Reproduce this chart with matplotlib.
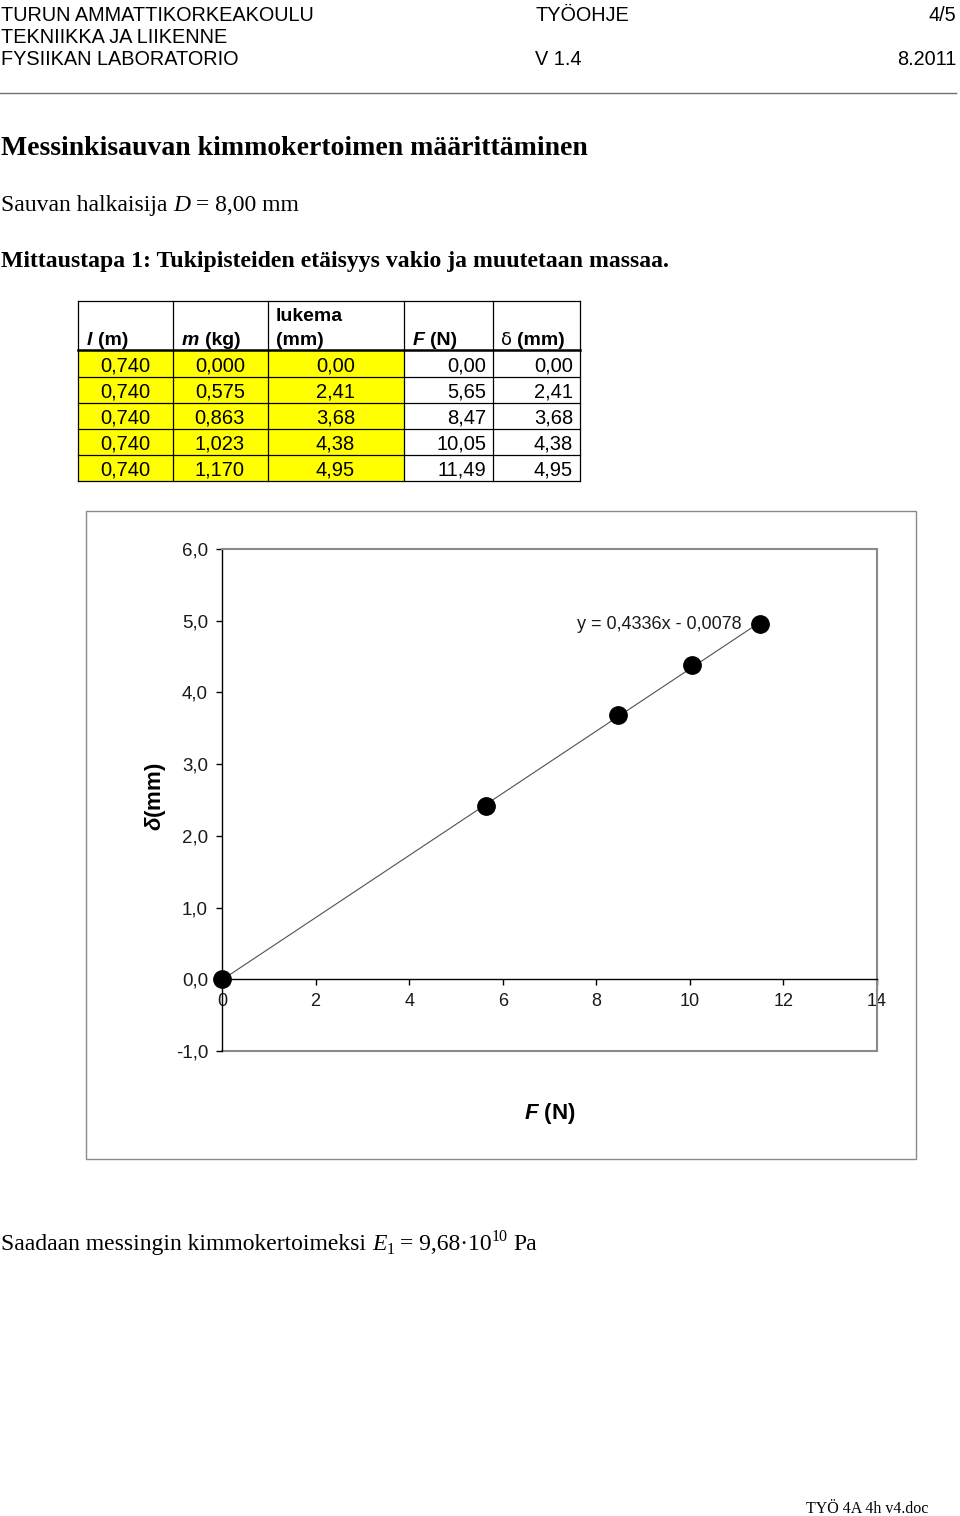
import matplotlib
matplotlib.use("Agg")
import matplotlib.pyplot as plt
from matplotlib.patches import Rectangle
from matplotlib.ticker import FixedLocator, FuncFormatter

SANS = "Liberation Sans"
SERIF = "Liberation Serif"

plt.rcParams.update(
    {
        "font.family": SANS,
        "mathtext.fontset": "custom",
        "mathtext.rm": "Liberation Sans:bold",
        "mathtext.it": "Liberation Sans:italic:bold",
        "mathtext.bf": "Liberation Sans:bold",
    }
)

# measurement table (Mittaustapa 1)
length_m = [0.740, 0.740, 0.740, 0.740, 0.740]
mass_kg = [0.000, 0.575, 0.863, 1.023, 1.170]
reading_mm = [0.00, 2.41, 3.68, 4.38, 4.95]
force_n = [0.00, 5.65, 8.47, 10.05, 11.49]
deflection_mm = [0.00, 2.41, 3.68, 4.38, 4.95]

# linear trend line shown in the chart
fit_slope = 0.4336
fit_intercept = -0.0078

x_ticks = [0, 2, 4, 6, 8, 10, 12, 14]
y_ticks = [-1, 0, 1, 2, 3, 4, 5, 6]

GRAY = "#8a8a8a"


def comma(value, decimals):
    return f"{value:.{decimals}f}".replace(".", ",")


def draw_runs(ax, renderer, x, y, runs):
    # place text pieces one after another on the same baseline
    for text, style in runs:
        style = dict(style)
        dy = style.pop("dy", 0)
        gap = style.pop("gap", 0)
        t = ax.text(x, y + dy, text, ha="left", va="baseline", **style)
        x += t.get_window_extent(renderer).width + gap
    return x


fig = plt.figure(figsize=(9.6, 15.16), dpi=100)
fig.patch.set_facecolor("white")
renderer = fig.canvas.get_renderer()

page = fig.add_axes([0, 0, 1, 1])
page.set_xlim(0, 960)
page.set_ylim(1516, 0)
page.axis("off")

# --- page header ---
head = dict(family=SANS, fontsize=14.3, color="black", va="baseline")
page.text(1, 21, "TURUN AMMATTIKORKEAKOULU", **head)
page.text(1, 43, "TEKNIIKKA JA LIIKENNE", **head)
page.text(1, 65, "FYSIIKAN LABORATORIO", **head)
page.text(535, 21, "TYÖOHJE", **head)
page.text(535, 65, "V 1.4", **head)
page.text(956, 21, "4/5", ha="right", **head)
page.text(956, 65, "8.2011", ha="right", **head)
page.plot([0, 956], [93, 93], color="#707070", lw=1.0)

# --- title and intro lines ---
page.text(1, 155, "Messinkisauvan kimmokertoimen määrittäminen",
          family=SERIF, fontsize=20, fontweight="bold", va="baseline")

BODY = 17
sp_body = 0.25 * BODY * 100 / 72
draw_runs(page, renderer, 1, 211, [
    ("Sauvan halkaisija", dict(family=SERIF, fontsize=BODY, gap=sp_body)),
    ("D", dict(family=SERIF, fontsize=BODY, style="italic", gap=sp_body)),
    ("= 8,00 mm", dict(family=SERIF, fontsize=BODY)),
])

page.text(1, 267, "Mittaustapa 1: Tukipisteiden etäisyys vakio ja muutetaan massaa.",
          family=SERIF, fontsize=17.1, fontweight="bold", va="baseline")

# --- table ---
col_edges = [78, 173, 268, 404, 493, 580]
row_edges = [301, 350, 377, 403, 429, 455, 481]

for r in range(1, len(row_edges) - 1):
    for c in range(3):
        page.add_patch(Rectangle((col_edges[c], row_edges[r]),
                                 col_edges[c + 1] - col_edges[c],
                                 row_edges[r + 1] - row_edges[r],
                                 facecolor="#FFFF00", edgecolor="none", zorder=1))

for x in col_edges:
    page.plot([x, x], [row_edges[0], row_edges[-1]], color="black", lw=0.9, zorder=2)
for i, y in enumerate(row_edges):
    page.plot([col_edges[0], col_edges[-1]], [y, y], color="black",
              lw=1.8 if i == 1 else 0.9, zorder=2)

sp14 = 0.278 * 14 * 100 / 72
hb = dict(family=SANS, fontsize=14, fontweight="bold")
hbi = dict(family=SANS, fontsize=14, fontweight="bold", style="italic")
draw_runs(page, renderer, 87, 345, [("l", dict(hbi, gap=sp14)), ("(m)", hb)])
draw_runs(page, renderer, 182, 345, [("m", dict(hbi, gap=sp14)), ("(kg)", hb)])
page.text(276, 321, "lukema", va="baseline", **hb)
page.text(276, 345, "(mm)", va="baseline", **hb)
draw_runs(page, renderer, 413, 345, [("F", dict(hbi, gap=sp14)), ("(N)", hb)])
draw_runs(page, renderer, 501, 345, [("δ", dict(family="DejaVu Sans", fontsize=13, gap=sp14)), ("(mm)", hb)])

columns = [
    (length_m, 3, 150),
    (mass_kg, 3, 245),
    (reading_mm, 2, 355),
    (force_n, 2, 486),
    (deflection_mm, 2, 573),
]
for values, decimals, right in columns:
    for r, v in enumerate(values):
        base = row_edges[r + 1] + 21
        page.text(right, base, comma(v, decimals), ha="right", va="baseline",
                  family=SANS, fontsize=14.5, zorder=3)

# --- chart ---
page.add_patch(Rectangle((86, 511), 830, 648, facecolor="none",
                         edgecolor=GRAY, lw=1.0))

ax = fig.add_axes([222 / 960, 1 - 1051 / 1516, (877 - 222) / 960, (1051 - 549) / 1516])
ax.set_xlim(0, 14)
ax.set_ylim(-1, 6)

fit_x = [force_n[0], force_n[-1]]
fit_y = [fit_slope * x + fit_intercept for x in fit_x]
ax.plot(fit_x, fit_y, color="#505050", lw=0.8, zorder=2)
ax.plot(force_n, deflection_mm, "o", color="black", ms=12.5, zorder=3, clip_on=False)

ax.annotate(f"y = {comma(fit_slope, 4)}x - {comma(-fit_intercept, 4)}",
            xy=(force_n[-1], deflection_mm[-1]), xytext=(-13, 0),
            textcoords="offset points", ha="right", va="center",
            fontsize=13, color="#1a1a1a")

for side in ("top", "right"):
    ax.spines[side].set_color(GRAY)
    ax.spines[side].set_linewidth(1.5)
ax.spines["left"].set_color("black")
ax.spines["left"].set_linewidth(1.0)
ax.spines["bottom"].set_position(("data", 0))
ax.spines["bottom"].set_color("black")
ax.spines["bottom"].set_linewidth(1.0)
ax.axhline(-1, color=GRAY, lw=1.5, clip_on=False, zorder=1)

ax.xaxis.set_major_locator(FixedLocator(x_ticks))
ax.yaxis.set_major_locator(FixedLocator(y_ticks))
ax.xaxis.set_major_formatter(FuncFormatter(lambda v, p: f"{v:.0f}"))
ax.yaxis.set_major_formatter(FuncFormatter(lambda v, p: comma(v, 1)))
ax.tick_params(axis="both", direction="out", length=4, width=1.0,
               labelcolor="#1a1a1a")
ax.tick_params(axis="x", pad=6, labelsize=13)
ax.tick_params(axis="y", pad=6, labelsize=13.5)

page.text(156, 797, r"$\delta$(mm)", rotation=90, ha="center", va="center",
          family=SANS, fontsize=16, fontweight="bold")
page.text(550, 1113, r"$F$ (N)", ha="center", va="center",
          family=SANS, fontsize=16, fontweight="bold")

# --- result line ---
sub = dict(family=SERIF, fontsize=11.5)
draw_runs(page, renderer, 1, 1250, [
    ("Saadaan messingin kimmokertoimeksi", dict(family=SERIF, fontsize=BODY, gap=sp_body)),
    ("E", dict(family=SERIF, fontsize=BODY, style="italic")),
    ("1", dict(sub, dy=4, gap=sp_body)),
    ("= 9,68·10", dict(family=SERIF, fontsize=BODY)),
    ("10", dict(sub, dy=-9, gap=sp_body)),
    ("Pa", dict(family=SERIF, fontsize=BODY)),
])

page.text(928, 1513, "TYÖ 4A 4h v4.doc", ha="right", va="baseline",
          family=SERIF, fontsize=11.5)

fig.savefig("out.png", dpi=100, facecolor="white")
